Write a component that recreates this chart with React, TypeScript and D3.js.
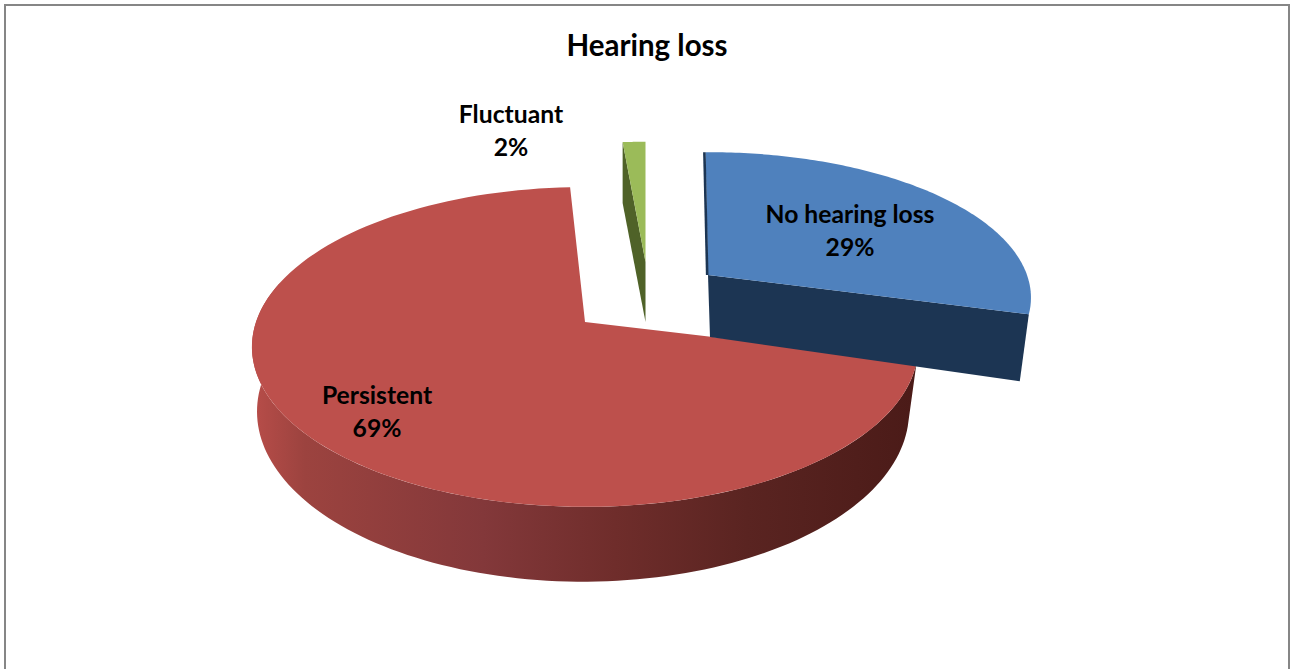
import React from "react";
import * as d3 from "d3";

const categories = ["No hearing loss", "Persistent", "Fluctuant"];
const percentValues = [29, 69, 2];
const title = "Hearing loss";

const W = 1295, H = 669;
const rad = Math.PI / 180;
const FONT = "Lato, 'Open Sans', sans-serif";
const PERSPECTIVE = 0.156;

type Plane = { x: number; y: number; a: number; b: number };
type Style = {
  top: Plane; bottom: Plane; startNudge: number; endNudge: number;
  fill: string; side: string; label: [number, number]; anchorWall?: [number, number];
};

const styles: Style[] = [
  {
    top: { x: 708, y: 275, a: 319, b: 142 }, bottom: { x: 710, y: 337, a: 308, b: 160 },
    startNudge: 0, endNudge: 1.5, fill: "#4f81bd", side: "#1c3553", label: [850, 215],
  },
  {
    top: { x: 585, y: 322, a: 329, b: 156 }, bottom: { x: 583, y: 385, a: 322, b: 166 },
    startNudge: 0, endNudge: 4.7, fill: "#bd504c", side: "url(#redWall)", label: [377, 396],
    anchorWall: [103.9, 285],
  },
  {
    top: { x: 645.5, y: 262, a: 316, b: 139 }, bottom: { x: 645.5, y: 322, a: 316, b: 138 },
    startNudge: 2.9, endNudge: 0.5, fill: "#9bbb59", side: "#4f6228", label: [511, 115],
  },
];

const wallStops: [number, string][] = [
  [0, "#b84d49"], [0.08, "#9c433f"], [0.35, "#83383a"], [0.55, "#6f2d2b"], [0.75, "#5a2421"], [1, "#4b1b18"],
];

function project(p: Plane, deg: number): [number, number] {
  const u = Math.sin(deg * rad), v = Math.cos(deg * rad);
  const w = 1 + PERSPECTIVE * v;
  return [p.x + (p.a * u) / w, p.y - (p.b * v) / w];
}

const line = d3.line<[number, number]>().x((d) => d[0]).y((d) => d[1]);

const arcPts = (p: Plane, a0: number, a1: number): [number, number][] =>
  d3.range(0, 121).map((i) => project(p, a0 + ((a1 - a0) * i) / 120));

export default function App() {
  const pie = d3.pie<number>().sort(null).startAngle(-0.5 * rad).endAngle(359.5 * rad);
  const arcs = pie(percentValues);

  const slices = arcs.map((arc, i) => {
    const s = styles[i];
    return {
      s, i,
      a0: arc.startAngle / rad + s.startNudge,
      a1: arc.endAngle / rad + s.endNudge,
    };
  });

  const [blue, red, green] = slices;
  const topFace = (sl: typeof blue) =>
    line([[sl.s.top.x, sl.s.top.y], ...arcPts(sl.s.top, sl.a0, sl.a1)])! + "Z";
  const cutFace = (sl: typeof blue, deg: number) =>
    line([
      [sl.s.top.x, sl.s.top.y], project(sl.s.top, deg),
      project(sl.s.bottom, deg), [sl.s.bottom.x, sl.s.bottom.y],
    ])! + "Z";

  const wall = red.s.anchorWall!;
  const wallPath =
    line([...arcPts(red.s.top, wall[0], wall[1]), ...arcPts(red.s.bottom, wall[0], wall[1]).reverse()])! + "Z";
  const bluePt = project(blue.s.top, blue.a0);

  return (
    <svg width={W} height={H} style={{ position: "fixed", left: 0, top: 0, background: "#fff" }}>
      <defs>
        <linearGradient id="redWall" gradientUnits="userSpaceOnUse" x1={252} x2={912} y1={0} y2={0}>
          {wallStops.map(([o, c]) => <stop key={o} offset={o} stopColor={c} />)}
        </linearGradient>
      </defs>
      <path d={`M5,${H}V5H1289V${H}`} fill="none" stroke="#868686" strokeWidth={2} />

      {/* Persistent */}
      <path d={wallPath} fill={red.s.side} />
      <path d={topFace(red)} fill={red.s.fill} />

      {/* Fluctuant */}
      <path d={cutFace(green, green.a0)} fill={green.s.side} />
      <path d={topFace(green)} fill={green.s.fill} />

      {/* No hearing loss */}
      <path d={cutFace(blue, blue.a1)} fill={blue.s.side} />
      <path d={topFace(blue)} fill={blue.s.fill} />
      <path
        d={line([[bluePt[0] - 1.2, bluePt[1]], [blue.s.top.x - 0.8, blue.s.top.y]])!}
        stroke={blue.s.side} strokeWidth={2.6} fill="none"
      />

      <text x={647} y={56} textAnchor="middle" fontFamily={FONT} fontWeight={700} fontSize={29.5} fill="#000">
        {title}
      </text>
      {categories.map((c, i) => (
        <text key={c} textAnchor="middle" fontFamily={FONT} fontWeight={700} fontSize={24.7} fill="#000">
          <tspan x={styles[i].label[0]} y={styles[i].label[1] + 8}>{c}</tspan>
          <tspan x={styles[i].label[0]} y={styles[i].label[1] + 41}>{percentValues[i]}%</tspan>
        </text>
      ))}
    </svg>
  );
}
